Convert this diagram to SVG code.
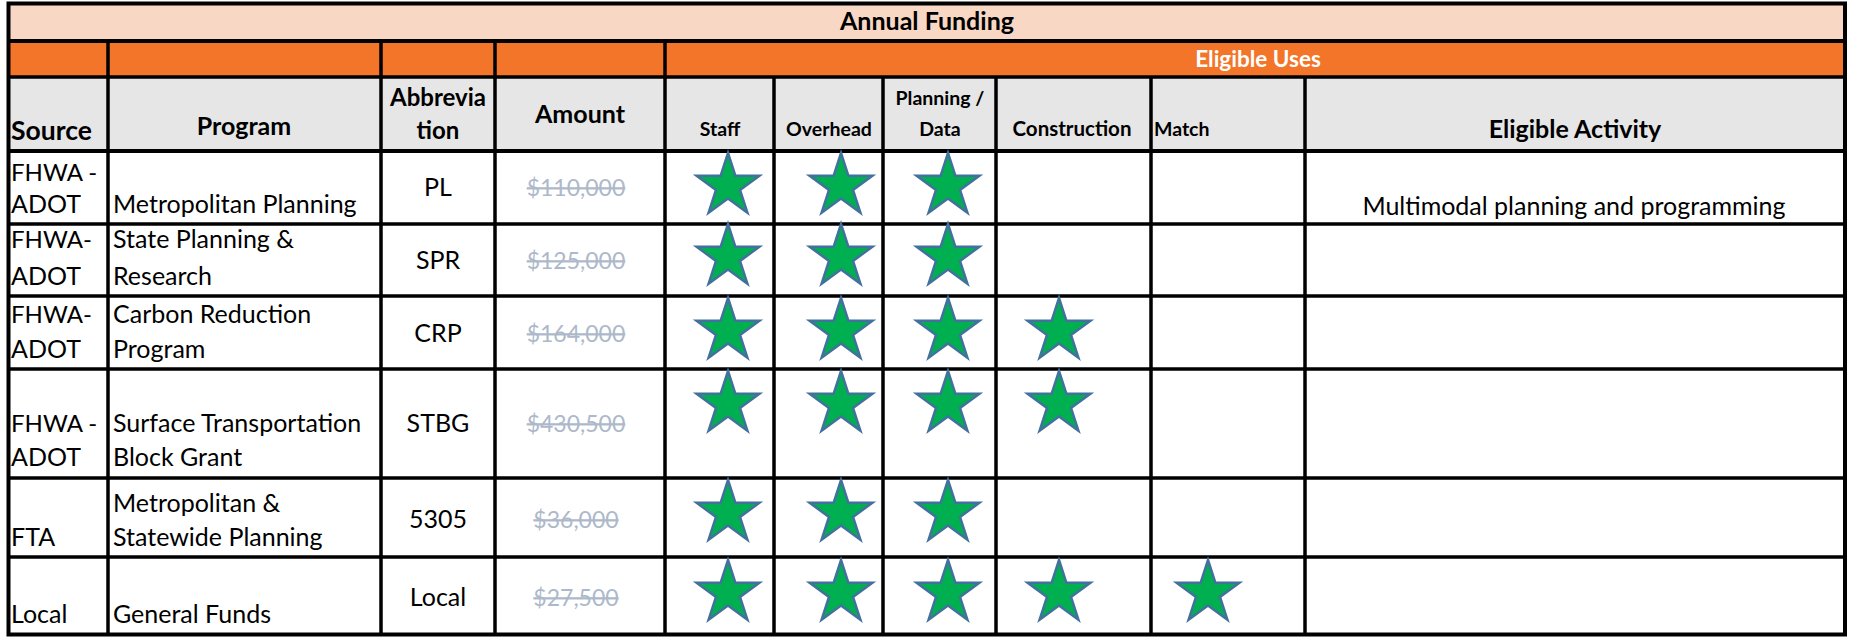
<svg xmlns="http://www.w3.org/2000/svg" width="1852" height="637" viewBox="0 0 1852 637">
<style>
text{font-family:Lato,"Liberation Sans",sans-serif;fill:#000}
.t{font-size:25px}
.b{font-size:25px;font-weight:bold}
.hs{font-size:19.5px;font-weight:bold}
.c{text-anchor:middle}
.amt{font-size:23px;fill:#adb9ca;text-anchor:middle;text-decoration:line-through}
.g{stroke:#000;stroke-width:3.5;fill:none}
</style>
<defs>
<polygon id="star" points="0,-33 7.4,-10.2 31.4,-10.2 12,3.9 19.4,26.7 0,12.6 -19.4,26.7 -12,3.9 -31.4,-10.2 -7.4,-10.2" fill="#00b050" stroke="#41719c" stroke-width="2.5" stroke-linejoin="miter"/>
</defs>
<rect x="0" y="0" width="1852" height="637" fill="#fff"/>
<g id="backgrounds">
<rect x="8" y="4" width="1838" height="37" fill="#f8d7c4"/>
<rect x="8" y="41" width="1838" height="36" fill="#f37529"/>
<rect x="8" y="77" width="1838" height="74" fill="#e6e6e6"/>
</g>
<g id="grid" class="g">
<rect x="8.5" y="3.5" width="1836.5" height="631" stroke-width="4"/>
<line x1="8" y1="41" x2="1846" y2="41" stroke-width="4"/>
<line x1="8" y1="77" x2="1846" y2="77"/>
<line x1="8" y1="151" x2="1846" y2="151" stroke-width="4"/>
<line x1="8" y1="224" x2="1846" y2="224"/>
<line x1="8" y1="296" x2="1846" y2="296"/>
<line x1="8" y1="369" x2="1846" y2="369"/>
<line x1="8" y1="478" x2="1846" y2="478"/>
<line x1="8" y1="557" x2="1846" y2="557"/>
<line x1="108" y1="41" x2="108" y2="635"/>
<line x1="381" y1="41" x2="381" y2="635"/>
<line x1="495" y1="41" x2="495" y2="635"/>
<line x1="665" y1="41" x2="665" y2="635"/>
<line x1="774" y1="77" x2="774" y2="635"/>
<line x1="883" y1="77" x2="883" y2="635"/>
<line x1="996" y1="77" x2="996" y2="635"/>
<line x1="1151" y1="77" x2="1151" y2="635"/>
<line x1="1305" y1="77" x2="1305" y2="635"/>
</g>
<g id="title"><text class="b c" x="927" y="30">Annual Funding</text></g>
<g id="eligible-uses"><text class="b c" x="1258" y="67" style="fill:#fff;font-size:22.5px">Eligible Uses</text></g>
<g id="header">
<text class="b" x="11" y="140" style="font-size:26.5px">Source</text>
<text class="b c" x="244" y="135">Program</text>
<text class="b c" x="438" y="106" style="font-size:24px">Abbrevia</text>
<text class="b c" x="438" y="139" style="font-size:24px">tion</text>
<text class="b c" x="580" y="123">Amount</text>
<text class="hs c" x="720" y="136">Staff</text>
<text class="hs c" x="829" y="136">Overhead</text>
<text class="hs c" x="940" y="105">Planning /</text>
<text class="hs c" x="940" y="136">Data</text>
<text class="hs c" x="1072" y="136" style="font-size:20.5px">Construction</text>
<text class="hs" x="1154" y="136">Match</text>
<text class="b c" x="1575" y="138">Eligible Activity</text>
</g>
<g id="row-pl">
<text class="t" x="11" y="181" style="font-size:24px">FHWA -</text>
<text class="t" x="11" y="213">ADOT</text>
<text class="t" x="113" y="213">Metropolitan Planning</text>
<text class="t c" x="438" y="196">PL</text>
<text class="amt" x="576" y="196">$110,000</text>
<use href="#star" x="728" y="186"/><use href="#star" x="841" y="186"/><use href="#star" x="948" y="186"/>
<text class="t c" x="1574" y="215">Multimodal planning and programming</text>
</g>
<g id="row-spr">
<text class="t" x="11" y="248" style="font-size:24px">FHWA-</text>
<text class="t" x="11" y="285">ADOT</text>
<text class="t" x="113" y="248">State Planning &amp;</text>
<text class="t" x="113" y="285">Research</text>
<text class="t c" x="438" y="269">SPR</text>
<text class="amt" x="576" y="269">$125,000</text>
<use href="#star" x="728" y="257"/><use href="#star" x="841" y="257"/><use href="#star" x="948" y="257"/>
</g>
<g id="row-crp">
<text class="t" x="11" y="323" style="font-size:24px">FHWA-</text>
<text class="t" x="11" y="358">ADOT</text>
<text class="t" x="113" y="323">Carbon Reduction</text>
<text class="t" x="113" y="358">Program</text>
<text class="t c" x="438" y="342">CRP</text>
<text class="amt" x="576" y="342">$164,000</text>
<use href="#star" x="728" y="331"/><use href="#star" x="841" y="331"/><use href="#star" x="948" y="331"/><use href="#star" x="1059" y="331"/>
</g>
<g id="row-stbg">
<text class="t" x="11" y="432" style="font-size:24px">FHWA -</text>
<text class="t" x="11" y="466">ADOT</text>
<text class="t" x="113" y="432">Surface Transportation</text>
<text class="t" x="113" y="466">Block Grant</text>
<text class="t c" x="438" y="432">STBG</text>
<text class="amt" x="576" y="432">$430,500</text>
<use href="#star" x="728" y="404"/><use href="#star" x="841" y="404"/><use href="#star" x="948" y="404"/><use href="#star" x="1059" y="404"/>
</g>
<g id="row-5305">
<text class="t" x="11" y="546">FTA</text>
<text class="t" x="113" y="512">Metropolitan &amp;</text>
<text class="t" x="113" y="546">Statewide Planning</text>
<text class="t c" x="438" y="528">5305</text>
<text class="amt" x="576" y="528">$36,000</text>
<use href="#star" x="728" y="513"/><use href="#star" x="841" y="513"/><use href="#star" x="948" y="513"/>
</g>
<g id="row-local">
<text class="t" x="11" y="623">Local</text>
<text class="t" x="113" y="623">General Funds</text>
<text class="t c" x="438" y="606">Local</text>
<text class="amt" x="576" y="606">$27,500</text>
<use href="#star" x="728" y="593"/><use href="#star" x="841" y="593"/><use href="#star" x="948" y="593"/><use href="#star" x="1059" y="593"/><use href="#star" x="1208" y="593"/>
</g>
</svg>
